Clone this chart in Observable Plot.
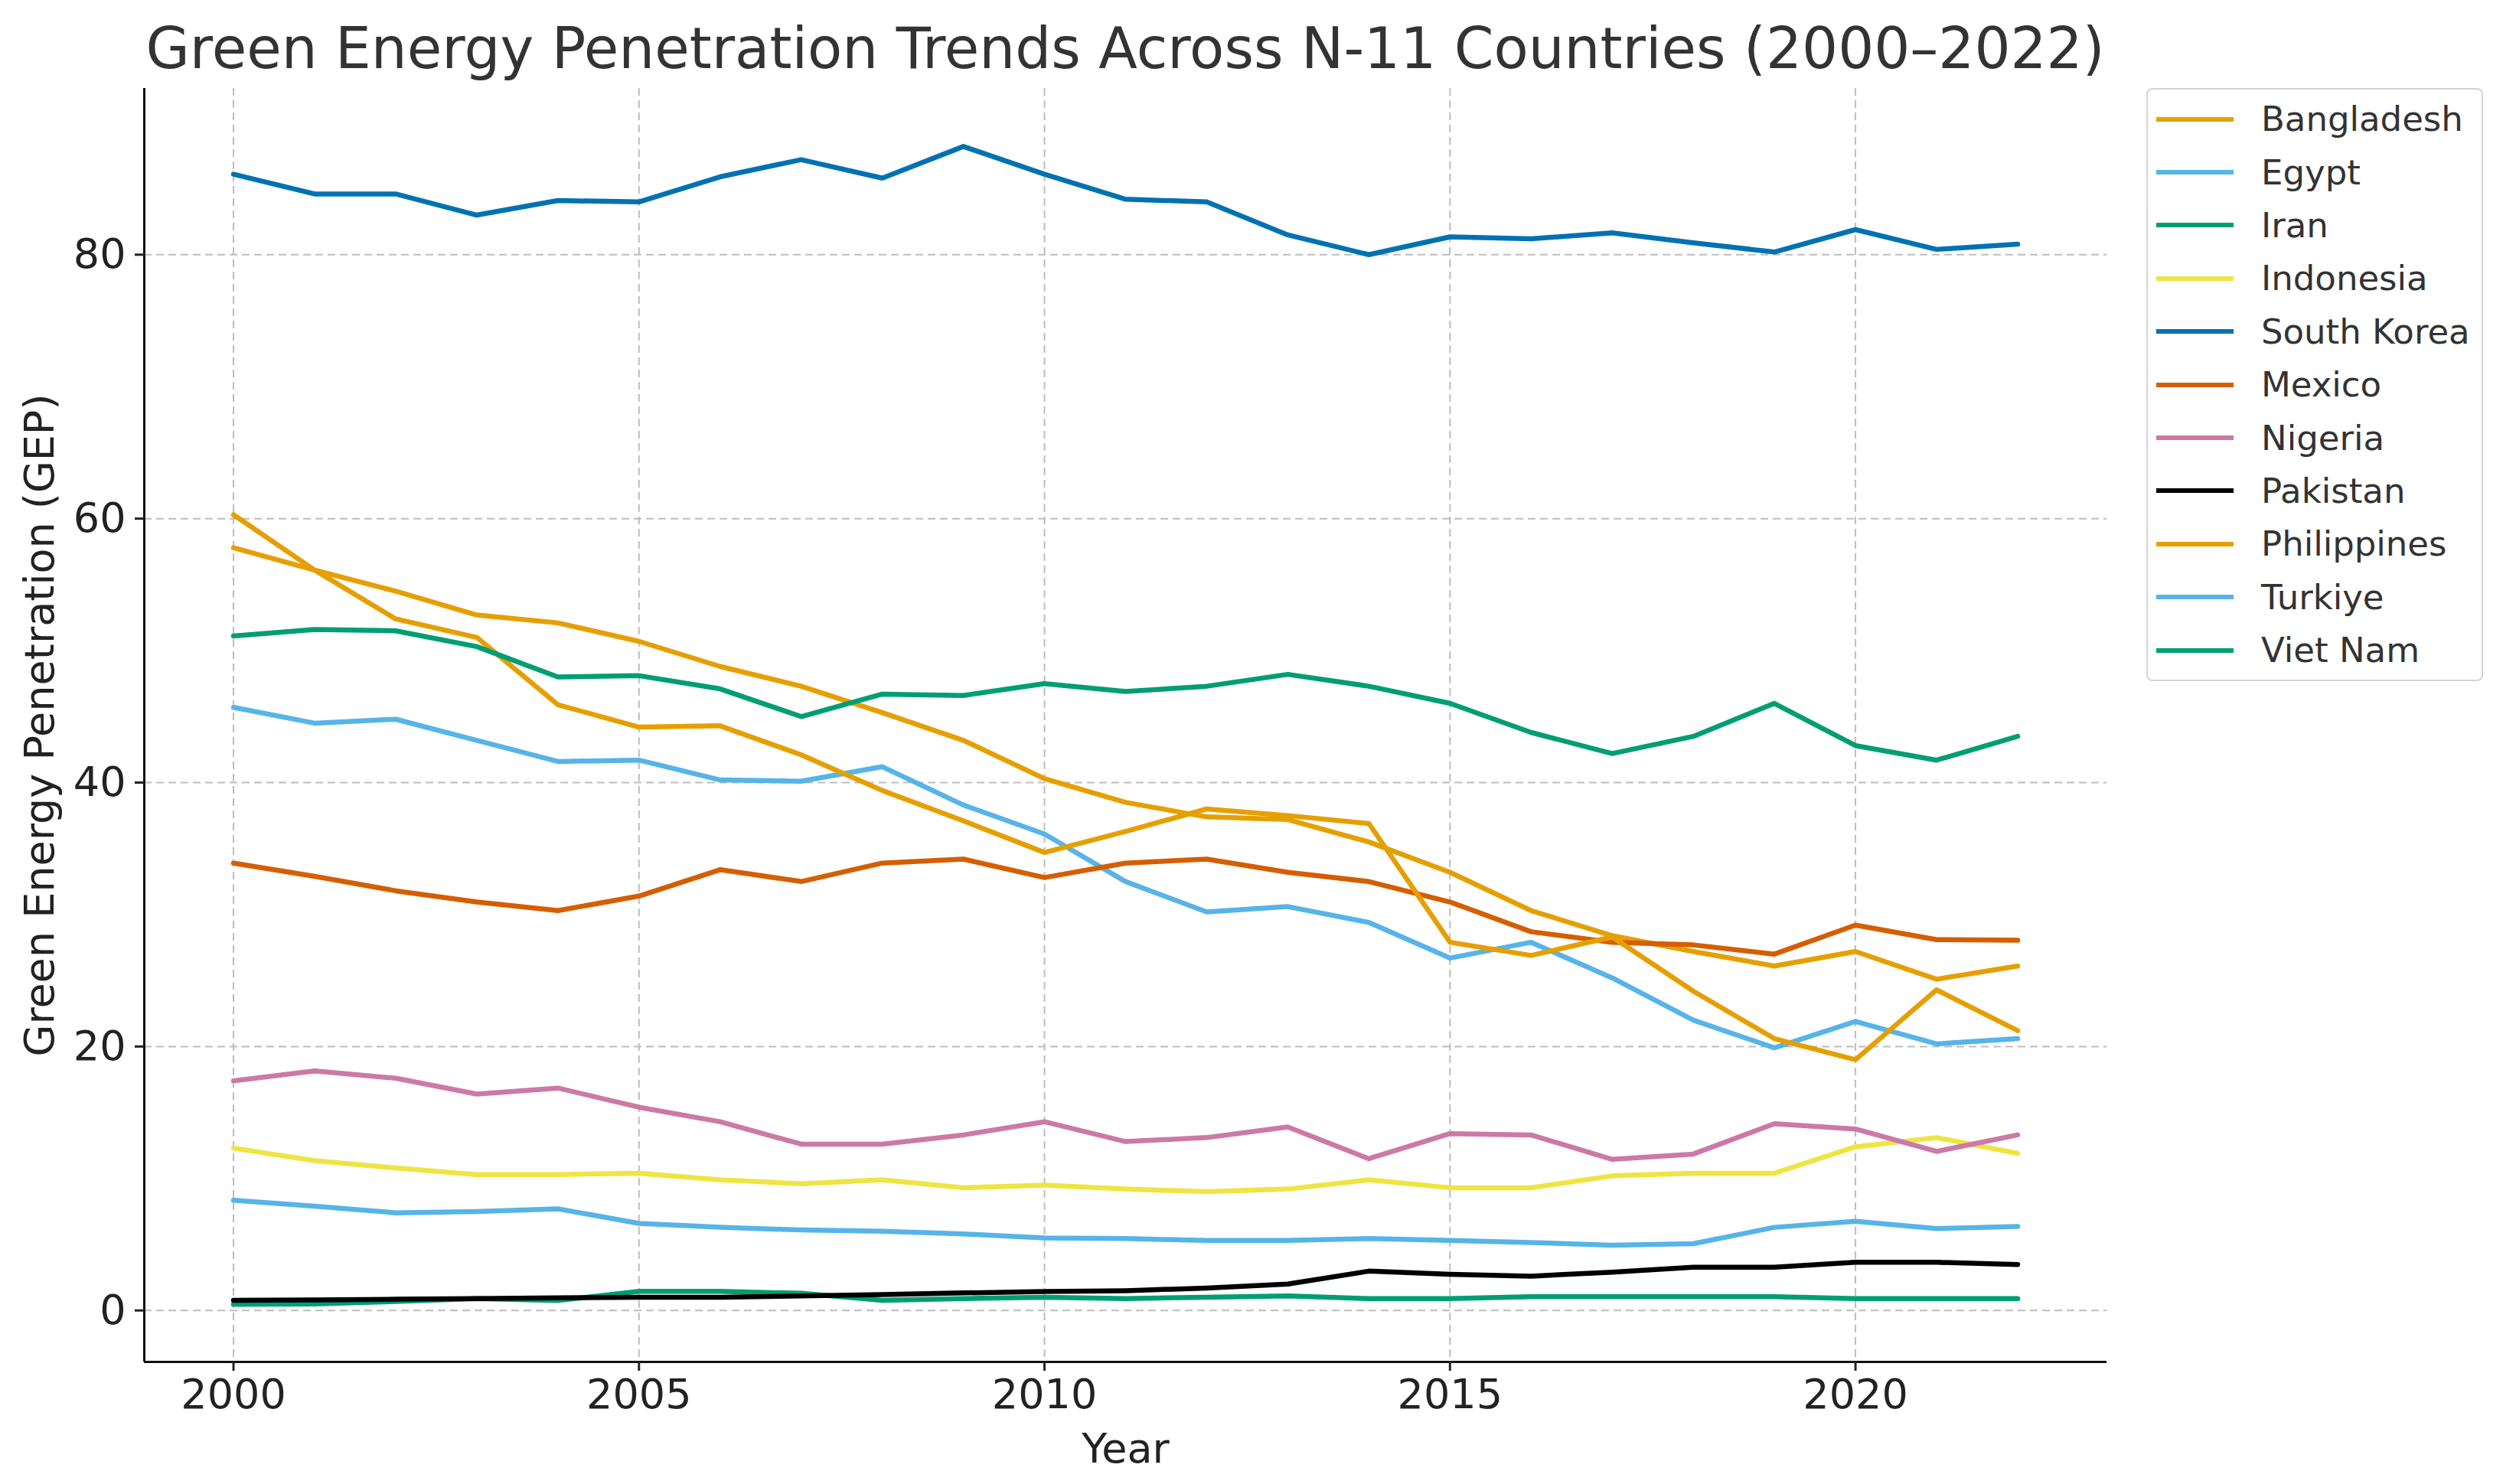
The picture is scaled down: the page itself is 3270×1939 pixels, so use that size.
<!DOCTYPE html>
<html>
<head>
<meta charset="utf-8">
<script src="https://cdn.jsdelivr.net/npm/d3@7"></script>
<script src="https://cdn.jsdelivr.net/npm/@observablehq/plot@0.6"></script>
<style>
  body { margin: 0; background: #fff; font-family: "DejaVu Sans", sans-serif; }
  #fig { position: relative; width: 3270px; height: 1939px; background: #fff; overflow: hidden; }
  #title { position: relative; height: 115px; }
  #title span { position: absolute; left: 188px; width: 2564px; top: 26px; text-align: center;
    font-size: 74px; line-height: 1; color: #333; white-space: nowrap; }
  #legend { position: absolute; left: 2804px; top: 115px; width: 440px; height: 775px;
    border: 2px solid #d4d4d4; border-radius: 8px; box-sizing: border-box; padding-top: 4px; }
  .row { height: 69.4px; display: flex; align-items: center; }
  .row svg { margin-left: 11px; margin-right: 36px; }
  .row span { font-size: 45px; color: #333; white-space: nowrap; }
</style>
</head>
<body>
<div id="fig">
  <div id="title"><span>Green Energy Penetration Trends Across N-11 Countries (2000–2022)</span></div>
  <div id="chart"></div>
  <div id="legend"></div>
</div>
<script>
const years = [2000,2001,2002,2003,2004,2005,2006,2007,2008,2009,2010,2011,2012,2013,2014,2015,2016,2017,2018,2019,2020,2021,2022];
const countries = ["Bangladesh","Egypt","Iran","Indonesia","South Korea","Mexico","Nigeria","Pakistan","Philippines","Turkiye","Viet Nam"];
const colors = ["#E69F00","#56B4E9","#009E73","#F0E442","#0072B2","#D55E00","#CC79A7","#000000","#E69F00","#56B4E9","#009E73"];

const bangladesh = [57.8,56.1,54.5,52.7,52.1,50.7,48.8,47.3,45.3,43.2,40.3,38.5,37.4,37.2,35.5,33.2,30.3,28.4,27.2,26.1,27.2,25.1,26.1];
const egypt      = [45.7,44.5,44.8,43.2,41.6,41.7,40.2,40.1,41.2,38.3,36.1,32.5,30.2,30.6,29.4,26.7,27.9,25.2,22.0,19.9,21.9,20.2,20.6];
const iran       = [0.46,0.5,0.68,0.9,0.75,1.45,1.45,1.3,0.77,0.9,1.0,0.9,1.0,1.1,0.9,0.9,1.04,1.04,1.04,1.04,0.9,0.9,0.9];
const indonesia  = [12.3,11.35,10.8,10.3,10.3,10.4,9.9,9.6,9.9,9.3,9.5,9.2,9.0,9.2,9.9,9.3,9.3,10.2,10.4,10.4,12.4,13.1,11.9];
const southKorea = [86.1,84.6,84.6,83.0,84.1,84.0,85.9,87.2,85.8,88.2,86.1,84.2,84.0,81.5,80.0,81.35,81.2,81.65,80.9,80.2,81.9,80.4,80.8];
const mexico     = [33.9,32.9,31.8,30.95,30.3,31.4,33.4,32.5,33.9,34.2,32.8,33.9,34.2,33.2,32.5,30.95,28.7,27.9,27.7,27.0,29.2,28.1,28.05];
const nigeria    = [17.4,18.15,17.6,16.4,16.85,15.4,14.3,12.6,12.6,13.3,14.3,12.8,13.1,13.9,11.5,13.4,13.3,11.45,11.85,14.15,13.75,12.05,13.3];
const pakistan   = [0.77,0.8,0.85,0.9,0.95,1.0,1.0,1.1,1.2,1.33,1.43,1.5,1.7,2.0,2.98,2.74,2.6,2.9,3.27,3.27,3.65,3.65,3.48];
const philippines= [60.3,56.1,52.4,51.0,45.9,44.2,44.3,42.1,39.4,37.1,34.7,36.3,38.0,37.5,36.9,27.9,26.9,28.3,24.2,20.6,19.0,24.3,21.2];
const turkiye    = [8.35,7.9,7.4,7.5,7.7,6.6,6.3,6.1,6.0,5.8,5.5,5.45,5.3,5.3,5.45,5.3,5.15,4.95,5.06,6.3,6.76,6.2,6.36];
const vietNam    = [51.1,51.6,51.5,50.3,48.0,48.1,47.1,45.0,46.7,46.6,47.5,46.9,47.3,48.2,47.3,46.0,43.8,42.2,43.5,46.0,42.8,41.7,43.5];

const xTicks = [2000,2005,2010,2015,2020];
const yTicks = [0,20,40,60,80];
const xDomain = [1998.9, 2023.1];
const yDomain = [-3.9, 92.6];

const series = [bangladesh, egypt, iran, indonesia, southKorea, mexico, nigeria, pakistan, philippines, turkiye, vietNam];
const rows = countries.flatMap((c, i) => years.map((y, j) => ({country: c, year: y, value: series[i][j]})));

const gridStyle = {stroke: "#bdbdbd", strokeOpacity: 1, strokeWidth: 2, strokeDasharray: "10,6"};

const chart = Plot.plot({
  width: 3270,
  height: 1824,
  marginTop: 0,
  marginLeft: 188,
  marginRight: 518,
  marginBottom: 160,
  style: {fontFamily: "DejaVu Sans", fontSize: "54px", color: "#222", background: "white", overflow: "visible"},
  x: {domain: xDomain},
  y: {domain: yDomain},
  color: {domain: countries, range: colors},
  marks: [
    Plot.gridX(xTicks, gridStyle),
    Plot.gridY(yTicks, gridStyle),
    Plot.line(rows, {x: "year", y: "value", z: "country", stroke: "country", strokeWidth: 6.5, strokeLinejoin: "round"}),
    Plot.ruleX([xDomain[0]], {stroke: "#111", strokeWidth: 3}),
    Plot.ruleY([yDomain[0]], {stroke: "#111", strokeWidth: 3}),
    Plot.axisX(xTicks, {tickFormat: d => String(d), tickSize: 12, tickPadding: 10, fontSize: 54, strokeWidth: 3, label: null}),
    Plot.axisY(yTicks, {tickSize: 12, tickPadding: 12, fontSize: 54, strokeWidth: 3, label: null}),
    Plot.text(["Green Energy Penetration (GEP)"], {text: d => d, frameAnchor: "left", dx: -136, rotate: -90, textAnchor: "middle", lineAnchor: "middle", fontSize: 54, fill: "#222"}),
    Plot.text(["Year"], {text: d => d, frameAnchor: "bottom", dy: 114, textAnchor: "middle", lineAnchor: "middle", fontSize: 54, fill: "#222"})
  ]
});
document.getElementById("chart").appendChild(chart);

const legend = document.getElementById("legend");
countries.forEach((c, i) => {
  const row = document.createElement("div");
  row.className = "row";
  row.innerHTML = `<svg width="101" height="10"><line x1="0" x2="101" y1="5" y2="5" stroke="${colors[i]}" stroke-width="6"/></svg><span>${c}</span>`;
  legend.appendChild(row);
});
</script>
</body>
</html>
